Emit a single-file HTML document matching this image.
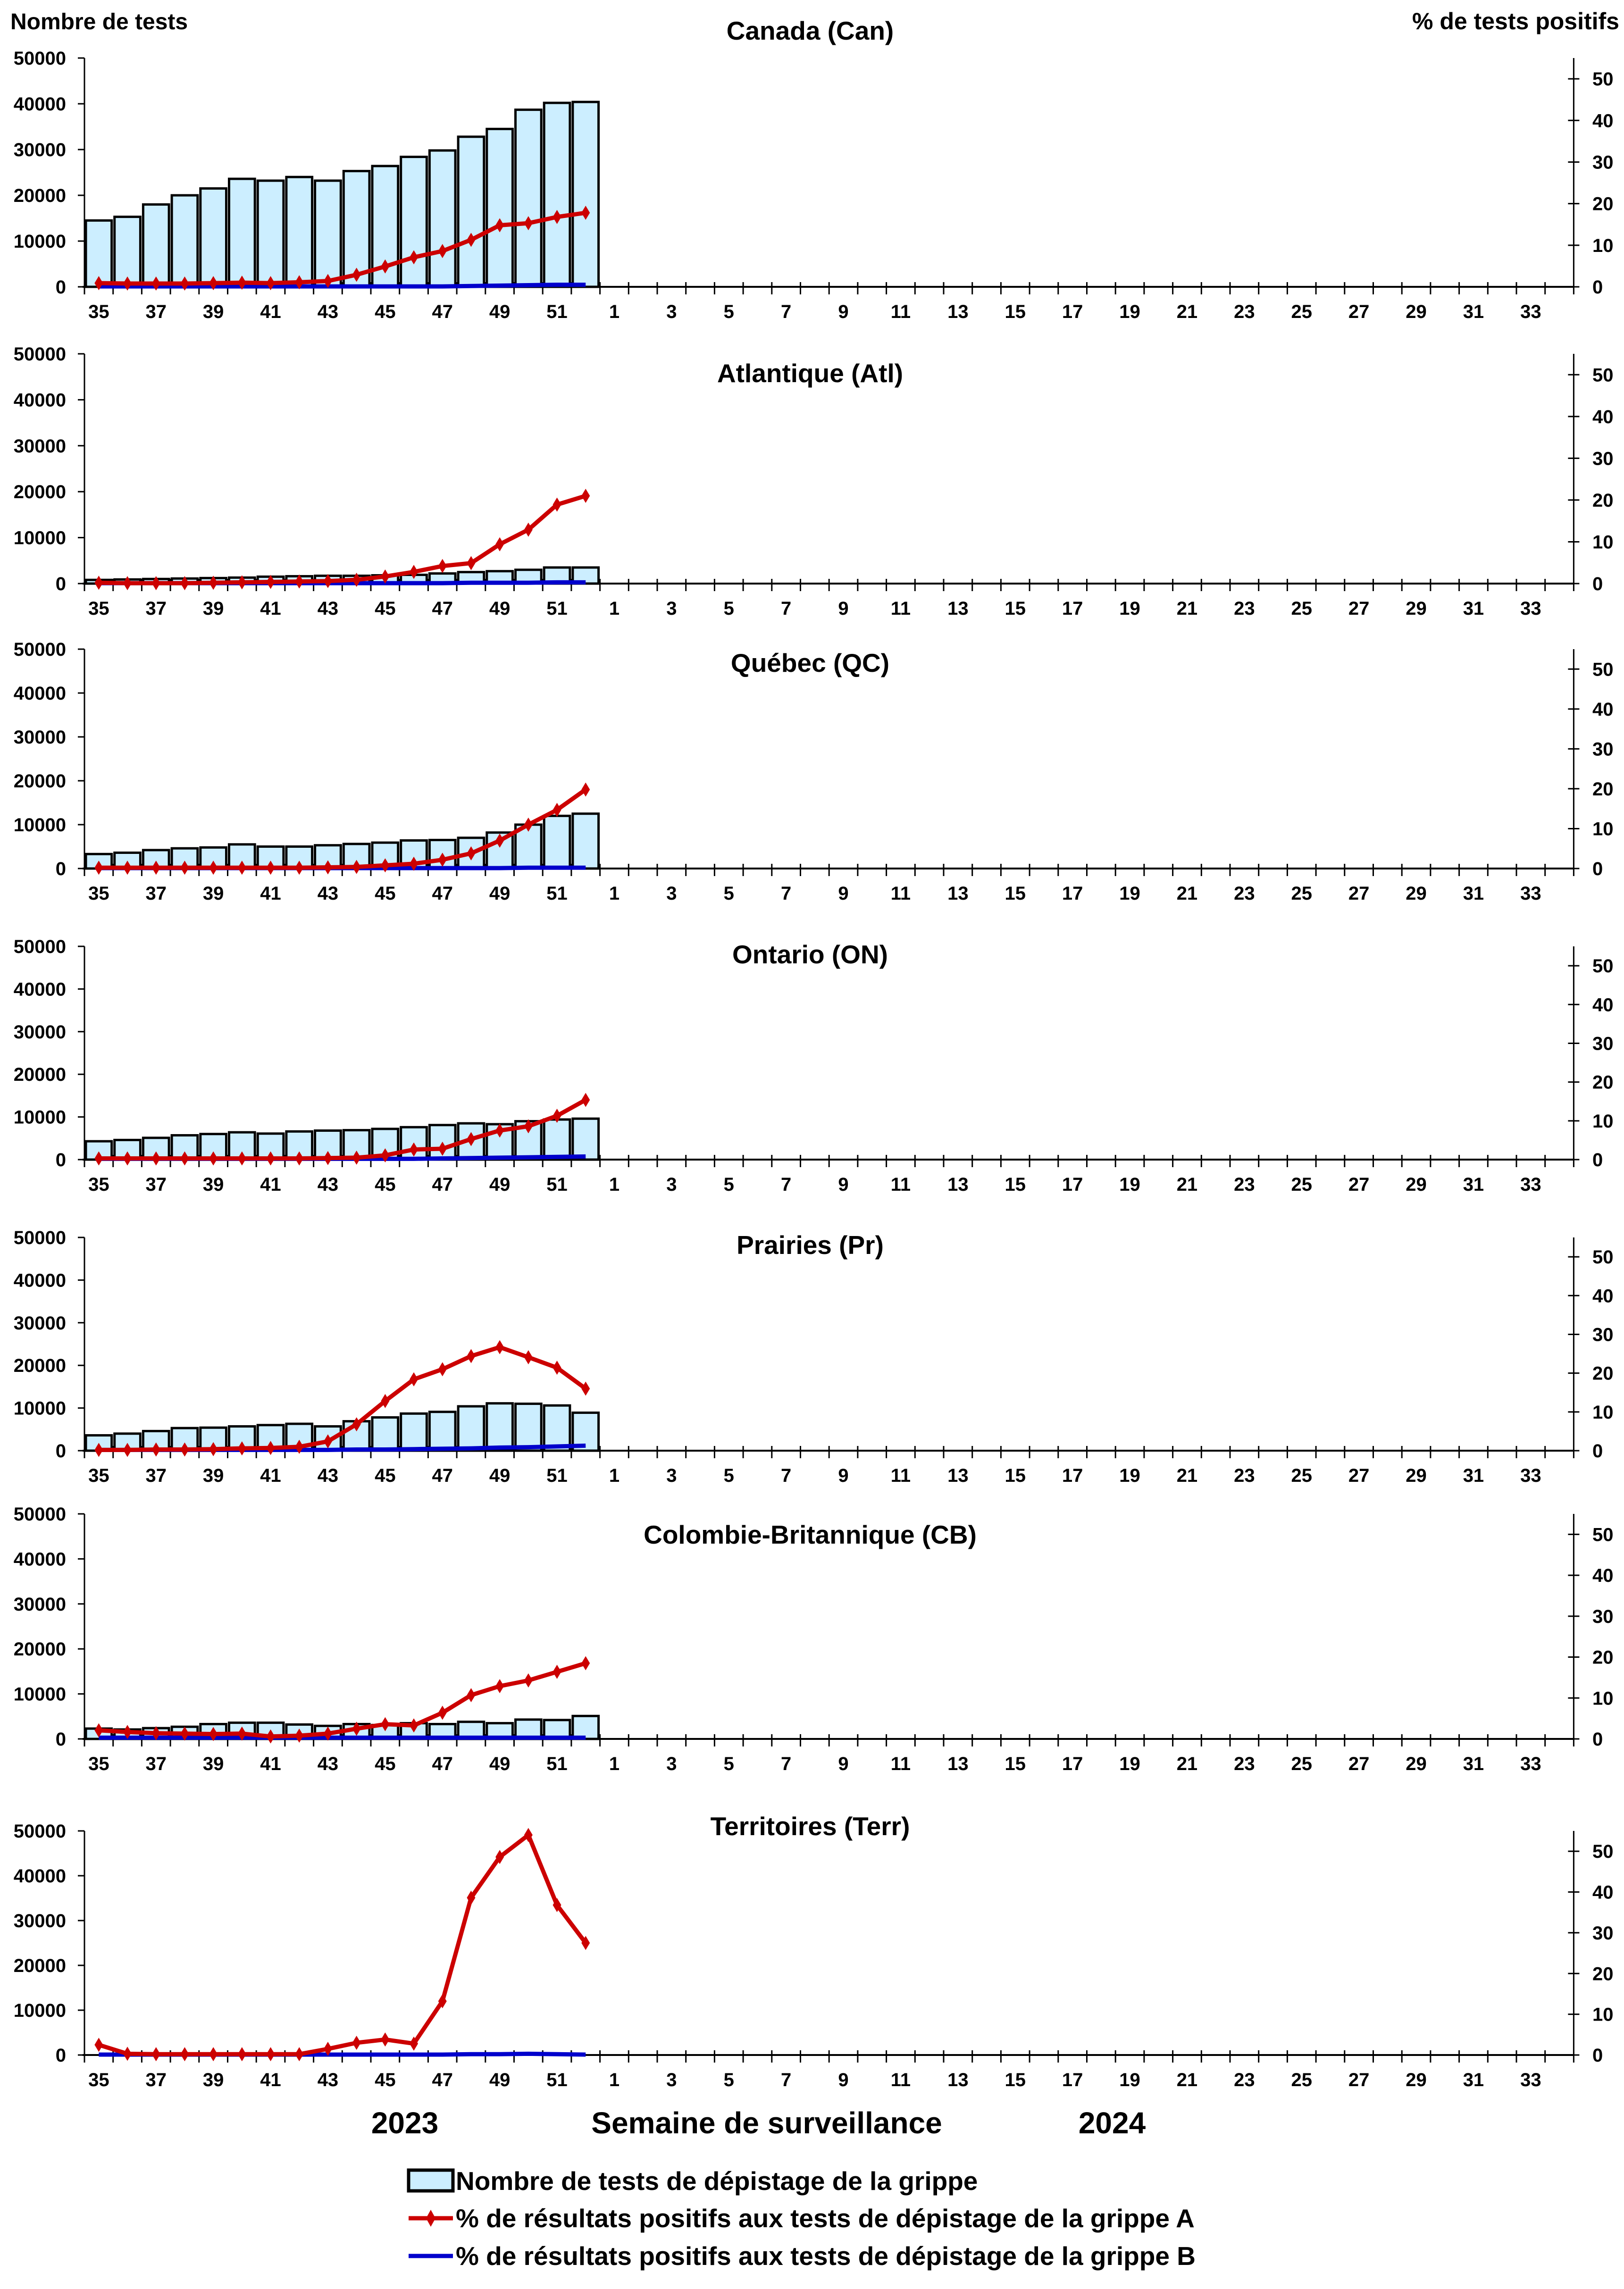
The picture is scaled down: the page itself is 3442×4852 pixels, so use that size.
<!DOCTYPE html>
<html><head><meta charset="utf-8"><style>
html,body{margin:0;padding:0;background:#fff}
svg{display:block}
text{font-family:"Liberation Sans",Arial,sans-serif;font-weight:bold;fill:#000}
</style></head><body>
<svg id="chart" width="3442" height="4852" viewBox="0 0 3442 4852" xmlns="http://www.w3.org/2000/svg">
<text x="22" y="62" font-size="48">Nombre de tests</text>
<text x="3432" y="62" font-size="50" text-anchor="end">% de tests positifs</text>
<text x="858" y="4522" font-size="64" text-anchor="middle">2023</text>
<text x="1625" y="4522" font-size="64" text-anchor="middle">Semaine de surveillance</text>
<text x="2357" y="4522" font-size="64" text-anchor="middle">2024</text>
<g>
<rect x="866" y="4600" width="94" height="44" fill="#cceeff" stroke="#000" stroke-width="7"/>
<text x="966" y="4642" font-size="55">Nombre de tests de dépistage de la grippe</text>
<line x1="866" y1="4702" x2="960" y2="4702" stroke="#cc0000" stroke-width="9"/>
<polygon points="913,4684 923,4702 913,4720 903,4702" fill="#cc0000"/>
<text x="966" y="4721" font-size="55">% de résultats positifs aux tests de dépistage de la grippe A</text>
<line x1="866" y1="4782" x2="960" y2="4782" stroke="#0000cc" stroke-width="9"/>
<text x="966" y="4801" font-size="55">% de résultats positifs aux tests de dépistage de la grippe B</text>
</g>
</svg>
<script>
const weeks=[35,36,37,38,39,40,41,42,43,44,45,46,47,48,49,50,51,52,1,2,3,4,5,6,7,8,9,10,11,12,13,14,15,16,17,18,19,20,21,22,23,24,25,26,27,28,29,30,31,32,33,34];
const leftTicks=[0,10000,20000,30000,40000,50000];
const rightTicks=[0,10,20,30,40,50];
const panelTitles=["Canada (Can)","Atlantique (Atl)","Québec (QC)","Ontario (ON)","Prairies (Pr)","Colombie-Britannique (CB)","Territoires (Terr)"];
const testsCan=[14500,15300,18000,20000,21500,23600,23200,24000,23200,25300,26400,28400,29800,32800,34500,38700,40200,40400];
const testsAtl=[800,900,1000,1100,1200,1300,1500,1600,1700,1700,1800,1900,2200,2500,2700,3000,3500,3500];
const testsQC=[3300,3600,4200,4600,4800,5500,5000,5000,5300,5600,5900,6400,6500,7000,8200,10000,12000,12500];
const testsON=[4300,4600,5100,5700,6000,6400,6100,6600,6800,6900,7200,7600,8100,8500,8300,9000,9400,9600];
const testsPr=[3600,4000,4600,5300,5400,5700,6000,6300,5700,6900,7800,8700,9100,10400,11100,11000,10600,8900];
const testsCB=[2300,2100,2400,2700,3300,3600,3600,3200,2900,3300,3100,3500,3300,3800,3500,4300,4200,5100];
const testsTerr=[0,0,0,0,0,0,0,0,0,0,0,0,0,0,0,0,0,0];
const fluACan=[0.9,0.8,0.8,0.8,0.9,1.0,0.9,1.1,1.4,2.9,4.9,7.1,8.6,11.3,14.8,15.3,16.8,17.8];
const fluAAtl=[0.2,0.1,0.1,0.1,0.2,0.3,0.4,0.5,0.6,0.9,1.7,2.8,4.2,4.9,9.4,12.9,18.9,21];
const fluAQC=[0.2,0.2,0.2,0.2,0.2,0.2,0.2,0.2,0.3,0.4,0.8,1.2,2.2,3.8,7,11,14.7,19.8];
const fluAON=[0.3,0.3,0.3,0.3,0.3,0.3,0.3,0.3,0.4,0.5,1.1,2.6,2.8,5.3,7.5,8.6,11.3,15.4];
const fluAPr=[0.2,0.2,0.3,0.3,0.4,0.6,0.7,1.0,2.4,6.8,12.8,18.4,21,24.4,26.7,24.1,21.4,16];
const fluACB=[2.1,1.7,1.4,1.3,1.2,1.3,0.6,0.8,1.3,2.5,3.6,3.3,6.4,10.7,12.9,14.3,16.4,18.5];
const fluATerr=[2.5,0.3,0.2,0.2,0.2,0.2,0.2,0.2,1.5,3,3.8,2.8,13.2,38.6,48.6,54,36.8,27.5];
const fluBCan=[0.1,0.1,0.1,0.1,0.1,0.1,0.1,0.1,0.1,0.1,0.1,0.1,0.1,0.2,0.3,0.4,0.5,0.5];
const fluBAtl=[0.1,0.1,0.1,0.1,0.1,0.1,0.1,0.1,0.1,0.1,0.1,0.1,0.1,0.2,0.2,0.2,0.3,0.3];
const fluBQC=[0.1,0.1,0.1,0.1,0.1,0.1,0.1,0.1,0.1,0.1,0.1,0.1,0.1,0.1,0.1,0.2,0.2,0.2];
const fluBON=[0.2,0.2,0.2,0.2,0.2,0.2,0.2,0.2,0.2,0.2,0.2,0.2,0.3,0.4,0.5,0.6,0.7,0.8];
const fluBPr=[0.2,0.2,0.2,0.2,0.2,0.2,0.2,0.2,0.2,0.3,0.3,0.4,0.5,0.6,0.8,0.9,1.1,1.3];
const fluBCB=[0.3,0.3,0.3,0.3,0.3,0.3,0.3,0.3,0.3,0.3,0.3,0.3,0.3,0.3,0.3,0.3,0.3,0.3];
const fluBTerr=[0.1,0.1,0.1,0.1,0.1,0.1,0.1,0.1,0.1,0.1,0.1,0.1,0.1,0.2,0.2,0.3,0.2,0.1];
const testsAll=[testsCan,testsAtl,testsQC,testsON,testsPr,testsCB,testsTerr];
const fluAAll=[fluACan,fluAAtl,fluAQC,fluAON,fluAPr,fluACB,fluATerr];
const fluBAll=[fluBCan,fluBAtl,fluBQC,fluBON,fluBPr,fluBCB,fluBTerr];

const NS="http://www.w3.org/2000/svg";
const svg=document.getElementById('chart');
const X0=179,CW=60.7,X1=X0+CW*weeks.length;
const zeros=[608,1237,1841,2458,3075,3686,4356];
const tops=[123,750,1376,2006,2623,3209,3881];
const titleY=[84,810,1424,2042,2658,3272,3890];
const LMAX=50000,RMAX=55;
function mk(tag,attrs,parent){const e=document.createElementNS(NS,tag);for(const k in attrs)e.setAttribute(k,attrs[k]);(parent||svg).appendChild(e);return e;}
function xc(i){return X0+CW*(i+0.5);}

panelTitles.forEach((title,p)=>{
  const z=zeros[p],t=tops[p],h=z-t;
  const yL=v=>z-v/LMAX*h, yR=v=>z-v/RMAX*h;
  const g=mk('g',{});
  
  
  const tt=mk('text',{x:1717,y:titleY[p],'font-size':55,'text-anchor':'middle'},g);
  
  
  tt.textContent=title;
  const la=mk('line',{x1:X0,y1:t,x2:X0,y2:z+16,stroke:'#000','stroke-width':3},g);
  
  
  leftTicks.forEach(v=>{
    mk('line',{x1:X0-14,y1:yL(v),x2:X0,y2:yL(v),stroke:'#000','stroke-width':3},g);
    const tx=mk('text',{x:140,y:yL(v)+14,'font-size':40,'text-anchor':'end'},g);
    
    
    tx.textContent=v;
  });
  const ra=mk('line',{x1:X1,y1:t,x2:X1,y2:z+16,stroke:'#000','stroke-width':3},g);
  
  
  rightTicks.forEach(v=>{
    mk('line',{x1:X1-12,y1:yR(v),x2:X1+12,y2:yR(v),stroke:'#000','stroke-width':3},g);
    const tx=mk('text',{x:3375,y:yR(v)+14,'font-size':40},g);
    
    
    tx.textContent=v;
  });
  testsAll[p].forEach((v,i)=>{
    if(v<=0)return;
    const r=mk('rect',{x:X0+CW*i+3,y:yL(v),width:CW-6,height:z-yL(v),fill:'#cceeff',stroke:'#000','stroke-width':5},g);
    
    
  });
  const xa=mk('line',{x1:X0-4,y1:z,x2:X1,y2:z,stroke:'#000','stroke-width':4},g);
  
  
  weeks.forEach((w,i)=>{
    mk('line',{x1:X0+CW*i,y1:z-10,x2:X0+CW*i,y2:z+16,stroke:'#000','stroke-width':3},g);
    if(i%2===0){
      const tx=mk('text',{x:xc(i),y:z+66,'font-size':40,'text-anchor':'middle'},g);
      
      
      tx.textContent=w;
    }
  });
  const pb=mk('polyline',{points:fluBAll[p].map((v,i)=>xc(i)+','+yR(v)).join(' '),fill:'none',stroke:'#0000cc','stroke-width':9,'stroke-linejoin':'round'},g);
  
  
  const pa=mk('polyline',{points:fluAAll[p].map((v,i)=>xc(i)+','+yR(v)).join(' '),fill:'none',stroke:'#cc0000','stroke-width':9,'stroke-linejoin':'round'},g);
  
  
  fluAAll[p].forEach((v,i)=>{
    const cx=xc(i),cy=yR(v);
    const d=mk('polygon',{points:`${cx},${cy-15} ${cx+9},${cy} ${cx},${cy+15} ${cx-9},${cy}`,fill:'#cc0000'},g);
    
    
  });
});
</script>
</body></html>
